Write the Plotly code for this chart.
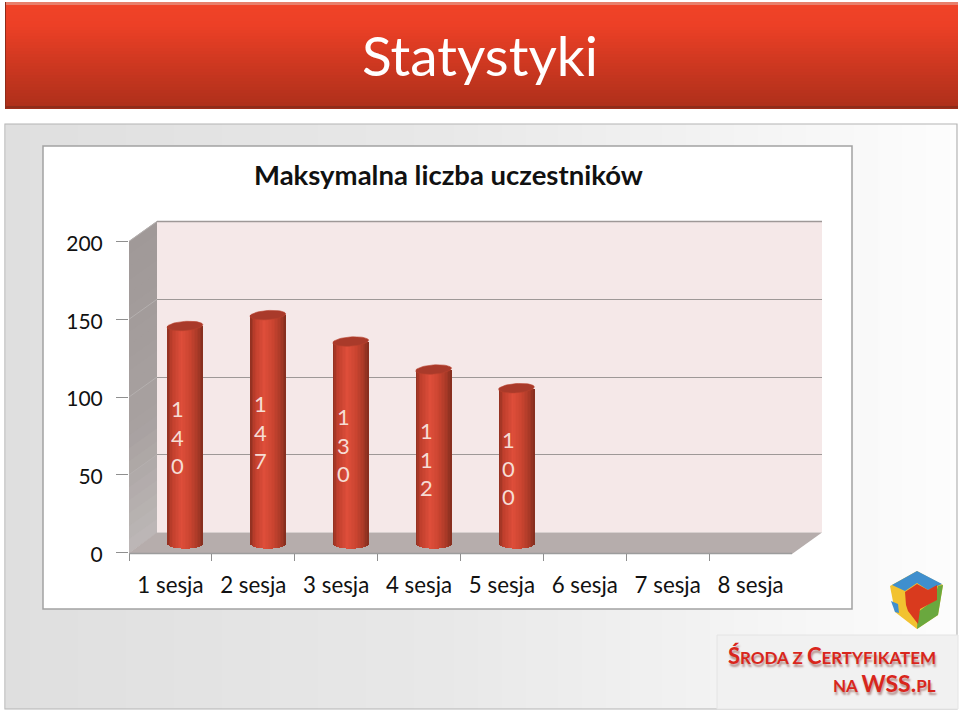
import math
import plotly.graph_objects as go

# ---- data ----
categories = ["1 sesja", "2 sesja", "3 sesja", "4 sesja", "5 sesja", "6 sesja", "7 sesja", "8 sesja"]
participants = [140, 147, 130, 112, 100, None, None, None]
y_ticks = [0, 50, 100, 150, 200]
slide_title = "Statystyki"
chart_title = "Maksymalna liczba uczestników"

W, H = 960, 711
FONT = "Lato"

def X(p): return p / W
def Y(p): return 1 - p / H

def lerp(stops, t):
    for (t0, c0), (t1, c1) in zip(stops, stops[1:]):
        if t <= t1:
            f = (t - t0) / (t1 - t0) if t1 > t0 else 0
            return "rgb(%d,%d,%d)" % tuple(round(a + (b - a) * f) for a, b in zip(c0, c1))
    return "rgb(%d,%d,%d)" % stops[-1][1]

shapes = []

def rect(x0, y0, x1, y1, fill=None, line=None, lw=0):
    shapes.append(dict(type="rect", xref="paper", yref="paper", x0=X(x0), x1=X(x1), y0=Y(y0), y1=Y(y1),
                       fillcolor=fill or "rgba(0,0,0,0)", line=dict(color=line or "rgba(0,0,0,0)", width=lw), layer="below"))

def poly(pts, fill, line=None, lw=0):
    path = "M " + " L ".join(f"{X(a):.5f},{Y(b):.5f}" for a, b in pts) + " Z"
    shapes.append(dict(type="path", xref="paper", yref="paper", path=path, fillcolor=fill,
                       line=dict(color=line or "rgba(0,0,0,0)", width=lw), layer="below"))

# slide banner
banner = [(0, (240, 67, 40)), (0.2, (236, 64, 38)), (0.6, (203, 55, 32)), (1, (172, 47, 26))]
rect(5, 2, 958, 109, fill="#8f2c1a")
for py in range(3, 108, 3):
    rect(6, py, 958, py + 4, fill=lerp(banner, (py - 3) / 105))
rect(6, 2, 958, 5, fill="#e8806c")
rect(6, 106, 958, 108.5, fill="#8f2c1a")

# panel behind the chart
panel = [(0, (223, 223, 223)), (0.45, (232, 232, 232)), (0.75, (243, 243, 243)), (1, (253, 253, 253))]
for px in range(6, 957, 8):
    rect(px, 124, min(px + 9, 957), 709, fill=lerp(panel, (px - 6) / 951))
rect(5, 124, 957, 709, line="#b4b4b4", lw=1.2)

# white chart area
rect(43, 146, 852, 609, fill="white", line="#a2a2a2", lw=1.5)

# 3D walls
WALL_L, WALL_R, WALL_T, WALL_B = 157, 822, 221.5, 532.5
FRONT_L, FRONT_R, FRONT_T, FRONT_B = 129, 792, 241.5, 552.5
rect(WALL_L, WALL_T, WALL_R, WALL_B, fill="#f5e8e8")
side = [(0, (160, 153, 152)), (0.6, (168, 161, 160)), (1, (190, 185, 184))]
steps = 24
for i in range(steps):
    a = 241 + (552 - 241) * i / steps
    b = 241 + (552 - 241) * (i + 1.1) / steps
    poly([(FRONT_L, a), (WALL_L, a - 20), (WALL_L, b - 20), (FRONT_L, b)], lerp(side, i / steps))
poly([(FRONT_L, 553), (WALL_L, WALL_B), (WALL_R, WALL_B), (FRONT_R, 554)], "#b6adac")
for v in y_ticks[1:]:
    py = FRONT_B - (FRONT_B - FRONT_T) * v / 200
    shapes.append(dict(type="line", xref="paper", yref="paper", x0=X(FRONT_L), x1=X(WALL_L), y0=Y(py), y1=Y(py - 20),
                       line=dict(color="#b5b0af", width=1), layer="below"))
shapes.append(dict(type="line", xref="paper", yref="paper", x0=X(129), x1=X(792), y0=Y(553.5), y1=Y(553.5),
                   line=dict(color="#9c9c9c", width=1.5), layer="below"))
shapes.append(dict(type="line", xref="paper", yref="paper", x0=X(WALL_L), x1=X(WALL_R), y0=Y(WALL_T), y1=Y(WALL_T),
                   line=dict(color="#9e9897", width=1.3), layer="below"))

# footer box
rect(717, 635, 958, 709, fill="#f1f1f1", line="#e4e4e4", lw=1)

# cube logo
poly([(917, 571), (943, 585), (938, 615), (917, 629), (895, 612), (890, 586)], "#f2c230")
poly([(917, 571), (942, 584), (928, 590), (917, 583), (905, 591), (892, 585)], "#3f8fce")
poly([(938, 586), (943, 585), (938, 615), (917, 629), (918, 612), (934, 600)], "#6aa83e")
poly([(905, 592), (917, 584), (928, 590), (937, 585), (937, 600), (920, 609), (918, 624), (908, 611), (906, 605)], "#d93a1e")
poly([(891, 601), (898, 604), (899, 613), (895, 612)], "#3f8fce")

# cylinders: vertical strips from the axis scale, rounded at the foot, capped by an ellipse
cyl = [(0, (140, 48, 32)), (0.12, (190, 62, 44)), (0.4, (222, 78, 58)), (0.65, (202, 68, 48)), (0.88, (165, 56, 38)), (1, (130, 45, 30))]
BAR_PX, UNIT_PX, PX_PER_VALUE = 35.5, 82.9, 311 / 200
N_STRIPS = 24
FOOT_PX, CAP_PX = 4.6, 4.6
positions = list(range(len(categories)))

traces = []
traces.append(go.Scatter(x=[0, 1], y=[None, None], xaxis="x", yaxis="y", showlegend=False, hoverinfo="skip"))
traces.append(go.Scatter(x=categories, y=[None] * len(categories), xaxis="x2", yaxis="y2", showlegend=False, hoverinfo="skip"))
for i in range(N_STRIPS):
    w = BAR_PX / N_STRIPS / UNIT_PX
    off = -BAR_PX / 2 / UNIT_PX + i * w
    t = (i + 0.5) / N_STRIPS
    foot = FOOT_PX * math.sqrt(max(0, 1 - (2 * t - 1) ** 2)) / PX_PER_VALUE
    traces.append(go.Bar(x=positions, y=[None if v is None else v + foot for v in participants],
                         base=[-foot] * len(positions), xaxis="x3", yaxis="y3", width=w * 1.15, offset=off,
                         marker=dict(color=lerp(cyl, t), line=dict(width=0)),
                         showlegend=False, hoverinfo="skip"))

annotations = []
for p, v in zip(positions, participants):
    if v is None:
        continue
    cap_x, cap_y = [], []
    tilt = math.radians(4)
    for k in range(49):
        th = 2 * math.pi * k / 48
        ex, ey = (BAR_PX / 2 + 0.2) * math.cos(th), CAP_PX * math.sin(th)
        cap_x.append(p + (ex * math.cos(tilt) - ey * math.sin(tilt)) / UNIT_PX)
        cap_y.append(v + (ex * math.sin(tilt) + ey * math.cos(tilt)) / PX_PER_VALUE)
    traces.append(go.Scatter(x=cap_x, y=cap_y, xaxis="x3", yaxis="y3", mode="lines", fill="toself",
                             fillcolor="#a93a2a", line=dict(color="#b8412d", width=0.6),
                             showlegend=False, hoverinfo="skip"))
    annotations.append(dict(x=p, y=v / 2, xref="x3", yref="y3", xanchor="center", yanchor="middle",
                            xshift=-7.5, yshift=-2.3, showarrow=False,
                            text="<br>".join(str(v)), align="center",
                            font=dict(family=FONT, size=22, color="#f6dcd4")))

SHADOW = "1px 3px 2px rgba(120,40,30,0.45)"
annotations += [
    dict(x=X(480), y=Y(55), xref="paper", yref="paper", xanchor="center", yanchor="middle", text=slide_title, showarrow=False,
         font=dict(family=FONT, size=55, color="white")),
    dict(x=X(448), y=Y(174.5), xref="paper", yref="paper", xanchor="center", yanchor="middle", text=f"<b>{chart_title}</b>", showarrow=False,
         font=dict(family=FONT, size=27.5, color="#111111")),
    dict(x=X(938), y=Y(655), xref="paper", yref="paper", xanchor="right", yanchor="middle", showarrow=False,
         text='<b><span style="font-size:22px">Ś</span>RODA Z <span style="font-size:22px">C</span>ERTYFIKATEM</b>',
         font=dict(family=FONT, size=17, color="#d9261c", shadow=SHADOW)),
    dict(x=X(938), y=Y(683), xref="paper", yref="paper", xanchor="right", yanchor="middle", showarrow=False,
         text='<b>NA <span style="font-size:23px">WSS.</span>PL</b>',
         font=dict(family=FONT, size=17, color="#d9261c", shadow=SHADOW)),
]

hidden = dict(visible=False, showgrid=False, zeroline=False, fixedrange=True)

fig = go.Figure(traces)
fig.update_layout(
    width=W, height=H, margin=dict(l=0, r=0, t=0, b=0, pad=0, autoexpand=False), autosize=False,
    paper_bgcolor="white", plot_bgcolor="rgba(0,0,0,0)", barmode="overlay", bargap=0,
    showlegend=False, shapes=shapes, annotations=annotations,
    font=dict(family=FONT, size=22, color="#111111"),
    xaxis=dict(domain=[X(WALL_L), X(WALL_R)], range=[0, 1], anchor="y", visible=False, fixedrange=True),
    yaxis=dict(domain=[Y(WALL_B), Y(WALL_T)], range=[0, 200], anchor="x", tickvals=y_ticks,
               showticklabels=False, ticks="", showgrid=True, gridcolor="#9e9897", gridwidth=1.3,
               zeroline=False, showline=False, fixedrange=True),
    xaxis2=dict(domain=[X(FRONT_L), X(FRONT_R)], anchor="y2", type="category", categoryorder="array",
                categoryarray=categories, range=[-0.5, 7.5], tickson="boundaries", ticks="outside",
                ticklen=7, tickcolor="#8f8f8f", tickwidth=1.2, showgrid=False, zeroline=False,
                showline=False, ticklabelstandoff=17, tickfont=dict(family=FONT, size=22.3, color="#111111"),
                fixedrange=True),
    yaxis2=dict(domain=[Y(FRONT_B), Y(FRONT_T)], anchor="x2", range=[0, 200], tickvals=y_ticks,
                ticks="outside", ticklen=12, tickcolor="#8f8f8f", tickwidth=1.2, showgrid=False,
                zeroline=False, showline=False, ticklabelstandoff=9, ticklabelshift=2,
                tickfont=dict(family=FONT, size=21, color="#111111"), fixedrange=True),
    xaxis3=dict(domain=[X(FRONT_L + 14.5), X(FRONT_R + 14.5)], anchor="y3", range=[-0.5, 7.5], **hidden),
    yaxis3=dict(domain=[Y(543.7 + 20 * PX_PER_VALUE), Y(543.7 - 311)], anchor="x3", range=[-20, 200], **hidden),
)

fig.write_html("out.html", config={"displayModeBar": False},
               post_script="document.body.style.margin='0';document.body.style.overflow='hidden';")
